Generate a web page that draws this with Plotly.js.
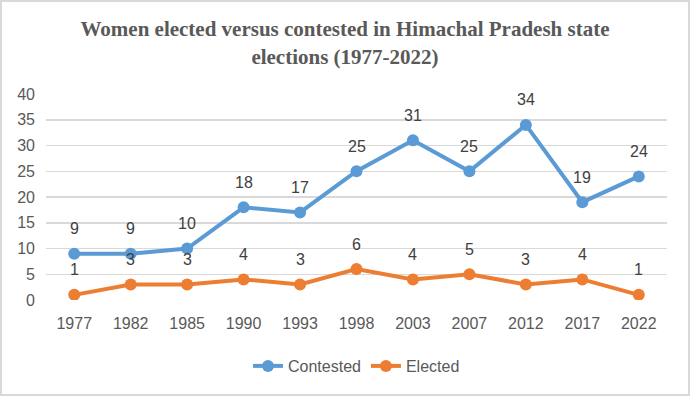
<!DOCTYPE html>
<html><head><meta charset="utf-8">
<script src="https://cdn.plot.ly/plotly-3.0.1.min.js"></script>
<style>
html,body{margin:0;padding:0;background:#fff;}
#chart{width:686px;height:392px;border:2px solid #d9d9d9;}
</style></head>
<body><div id="chart"></div>
<script>
const years = ['1977','1982','1985','1990','1993','1998','2003','2007','2012','2017','2022'];
const contested = [9,9,10,18,17,25,31,25,34,19,24];
const elected = [1,3,3,4,3,6,4,5,3,4,1];
const yTicks = [0,5,10,15,20,25,30,35,40];

const blue = '#5B9BD5', orange = '#ED7D31';
const fam = 'Liberation Sans, Arial, sans-serif';
const traces = [
  {x: years, y: contested, name: 'Contested', type: 'scatter', mode: 'lines+markers',
   line: {color: blue, width: 4}, marker: {color: blue, size: 12}},
  {x: years, y: elected, name: 'Elected', type: 'scatter', mode: 'lines+markers',
   line: {color: orange, width: 4}, marker: {color: orange, size: 12}}
];
const ann = [];
[contested, elected].forEach(arr => arr.forEach((v, i) => ann.push({
  xref: 'x', yref: 'y', x: i, y: v, text: String(v), showarrow: false, yshift: 25,
  xanchor: 'center', yanchor: 'middle',
  font: {family: fam, size: 16, color: '#404040'}
})));
const layout = {
  width: 686, height: 392,
  margin: {l: 44, r: 21, t: 92, b: 93},
  paper_bgcolor: '#fff', plot_bgcolor: '#fff',
  title: {text: 'Women elected versus contested in Himachal Pradesh state<br>elections (1977-2022)',
    x: 0.5, xanchor: 'center', y: 0.912, yanchor: 'middle',
    font: {family: 'Liberation Serif, Times New Roman, serif', size: 21, color: '#595959', weight: 'bold'}},
  xaxis: {type: 'category', range: [-0.5, 10.5], showgrid: false, zeroline: false,
    showline: false, ticks: '', ticklabelstandoff: 12,
    tickfont: {family: fam, size: 16, color: '#595959'}},
  yaxis: {range: [0, 40], tickvals: yTicks, showgrid: true, gridcolor: '#d9d9d9', gridwidth: 1.5,
    zeroline: false, showline: false, ticks: '', ticklabelstandoff: 10,
    tickfont: {family: fam, size: 16, color: '#595959'}},
  showlegend: true,
  legend: {orientation: 'h', x: 0.5, xanchor: 'center', y: -0.314, yanchor: 'middle',
    font: {family: fam, size: 16, color: '#595959'}},
  annotations: ann
};
Plotly.newPlot('chart', traces, layout, {displayModeBar: false, staticPlot: true});
</script></body></html>
